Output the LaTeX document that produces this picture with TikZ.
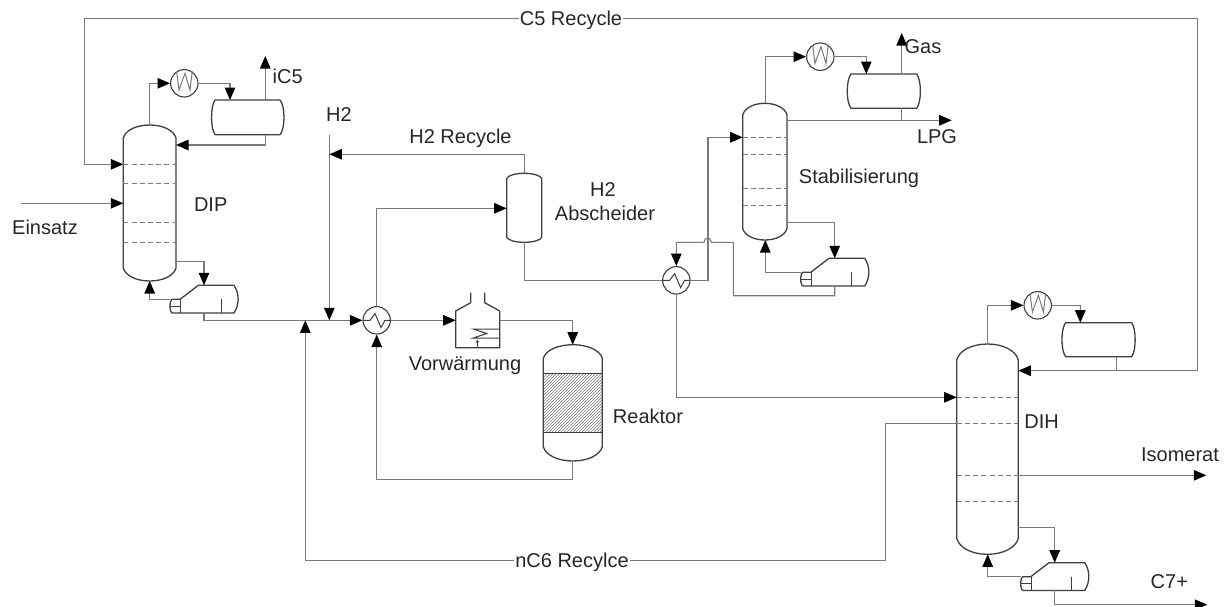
\documentclass[tikz,border=0pt]{standalone}
\usepackage{fontspec}
\setmainfont{Liberation Sans}
\usetikzlibrary{arrows.meta,patterns,calc}
\definecolor{pipe}{HTML}{7A7A7A}
\definecolor{vess}{HTML}{3F3F3F}
\definecolor{ink}{HTML}{262626}
\newcommand{\vesselshape}[6]{% xl xr ytop yshoulder1 yshoulder2 ybot
  \pgfmathsetmacro{\vc}{(#1+#2)/2}\pgfmathsetmacro{\vk}{(#2-#1)*0.25}\pgfmathsetmacro{\vs}{(#2-#1)*0.04}
  \draw[vesselline,fill=white] (#1,#4) .. controls ({#1+\vs},{#3+(#4-#3)*0.4}) and ({\vc-\vk},#3) .. (\vc,#3)
     .. controls ({\vc+\vk},#3) and ({#2-\vs},{#3+(#4-#3)*0.4}) .. (#2,#4) -- (#2,#5)
     .. controls ({#2-\vs},{#6-(#6-#5)*0.4}) and ({\vc+\vk},#6) .. (\vc,#6)
     .. controls ({\vc-\vk},#6) and ({#1+\vs},{#6-(#6-#5)*0.4}) .. (#1,#5) -- cycle;}
\newcommand{\drumshape}[6]{% xl xa xb xr ytop ybot
  \draw[vesselline,fill=white] (#2,#5) -- (#3,#5) .. controls ({#4+1.3},{#5+6}) and ({#4+1.3},{#6-6}) .. (#3,#6)
     -- (#2,#6) .. controls ({#1-1.3},{#6-6}) and ({#1-1.3},{#5+6}) .. (#2,#5) -- cycle;}
\newcommand{\trays}[5]{% xl xr y1..
  \foreach \ty in {#3,#4,#5}{\draw[trayline] (#1,\ty) -- (#2,\ty);}}
\tikzset{
  x=1pt,y=-1pt,
  vesselline/.style={draw=vess,line width=1.3pt,line join=round},
  trayline/.style={draw=pipe,line width=1pt,dash pattern=on 5pt off 3.2pt},
  pipeline/.style={draw=pipe,line width=1.1pt,line join=miter},
  flow/.style={pipeline,-{Triangle[length=12.5pt,width=10.5pt,black]}},
  bothflow/.style={pipeline,{Triangle[length=12.5pt,width=10.5pt,black]}-{Triangle[length=12.5pt,width=10.5pt,black]}},
  lbl/.style={text=ink,font=\fontsize{20}{24}\selectfont,inner sep=0pt},
  blbl/.style={lbl,fill=white,inner xsep=1pt,inner ysep=0pt},
  unit/.style={circle,draw=vess,line width=1.1pt,minimum size=27.4pt,inner sep=0pt,fill=white},
  reb/.pic={
    \draw[vesselline,fill=white] (10.7,13.5) -- (28.3,0) -- (64,0) .. controls (69.5,8) and (69.5,19.5) .. (64,27.7) -- (2.5,27.7)
      .. controls (-0.8,27.7) and (-0.8,14) .. (2.5,14) -- (10.7,14) -- cycle;
    \draw[vess,line width=1pt] (10.7,14) -- (10.7,27.7) (0.2,20.8) -- (10.7,20.8);
    \draw[vess,line width=1.1pt] (51.2,14) -- (51.2,27.7);
    \coordinate (-in) at (34,0);
    \coordinate (-out) at (34,27.7);
    \coordinate (-head) at (0,14);
  },
  cdzig/.pic={\draw[pipe,line width=1pt,line join=miter] (-7.7,-11.7) -- (-5.3,6.7) -- (0.7,-10) -- (5.7,6.7) -- (8,-12);},
  hxzig/.pic={\draw[vess,line width=1pt,line join=miter] (-13.7,0) -- (-6.7,0) -- (-1.7,-6.7) -- (4.3,7.3) -- (8.3,0) -- (13.7,0);}
}
\begin{document}
\begin{tikzpicture}
\useasboundingbox (0,0) rectangle (1228,606);
% ---- ports
\coordinate (colAtop) at (149.7,125);
\coordinate (colAbot) at (149.7,281);
\coordinate (colAref) at (176,145);
\coordinate (colAfd1) at (123.3,164.3);
\coordinate (colAfd2) at (123.3,203.3);
\coordinate (colAbt) at (176,261.3);
\coordinate (drumAin) at (230,100);
\coordinate (drumAgas) at (265.3,100);
\coordinate (drumAliq) at (265.3,134.7);
\coordinate (iCend) at (265.3,56);
\coordinate (einS) at (20.7,203.3);
\coordinate (c5tl) at (84.5,18.3);
\coordinate (c5tr) at (1197.3,18.3);
\coordinate (colCref) at (1018.3,370.7);
\coordinate (hTop) at (329.3,135);
\coordinate (hJoin) at (329.3,320.3);
\coordinate (nJoin) at (305.3,320.3);
\coordinate (nCorner) at (305.3,560.3);
\coordinate (colCn) at (956.7,423.3);
\coordinate (colCfd) at (956.7,397.3);
\coordinate (sepT) at (524.3,173.3);
\coordinate (sepB) at (524.3,242.3);
\coordinate (sepF) at (506.7,208.3);
\coordinate (sepLn) at (329.3,154.3);
\coordinate (furnW) at (455.7,320.3);
\coordinate (furnE) at (499.7,320.3);
\coordinate (reaT) at (572.7,344.7);
\coordinate (reaB) at (572.7,461);
\coordinate (colBtop) at (765.3,103.3);
\coordinate (colBbot) at (765.3,240);
\coordinate (colBfd) at (742.7,137.3);
\coordinate (colBlpg) at (787,120.3);
\coordinate (colBbt) at (787,222.3);
\coordinate (lpgEnd) at (951.7,120.3);
\coordinate (drumBin) at (866.3,74);
\coordinate (drumBgas) at (901.7,74);
\coordinate (drumBliq) at (901.7,108.3);
\coordinate (drumBj) at (901.7,120.3);
\coordinate (gasEnd) at (901.7,33);
\coordinate (colCtop) at (987.7,344);
\coordinate (colCbot) at (987.7,554.3);
\coordinate (colCbt) at (1018.3,527.3);
\coordinate (colCiso) at (1018.3,475.3);
\coordinate (isoEnd) at (1206.3,475.3);
\coordinate (drumCin) at (1080.3,322.7);
\coordinate (drumCliq) at (1116.7,356.7);
\coordinate (drumCj) at (1116.7,370.7);
\coordinate (c7End) at (1207.3,604.7);
% ---- exchangers
\node[unit] (cdA) at (184.3,83.3) {};
\node[unit] (cdB) at (820.3,56.7) {};
\node[unit] (cdC) at (1037.7,305.3) {};
\node[unit] (hxA) at (376.7,320.3) {};
\node[unit] (hxB) at (676.3,280.3) {};
\pic at (cdA) {cdzig}; \pic at (cdB) {cdzig}; \pic at (cdC) {cdzig};
\pic at (hxA) {hxzig}; \pic at (hxB) {hxzig};
% ---- vessels
\vesselshape{123.3}{176}{125}{138}{268}{281}
\trays{123.3}{175}{164.3}{183.7}{222.7}
\draw[trayline] (123.3,242.3) -- (175,242.3);
\vesselshape{742.7}{787}{103.3}{115}{228.3}{240}
\trays{742.7}{786}{137.3}{154.7}{188.7}
\draw[trayline] (742.7,205.3) -- (786,205.3);
\vesselshape{956.7}{1018.3}{344}{360}{538.3}{554.3}
\trays{956.7}{1017.5}{397.3}{423.3}{475.3}
\draw[trayline] (956.7,501.7) -- (1017.5,501.7);
\vesselshape{506.7}{541.7}{173.3}{178.5}{237.3}{242.3}
\drumshape{211.7}{215}{280}{284}{100}{134.7}
\drumshape{847.3}{851}{916.7}{920.3}{74}{108.3}
\drumshape{1062}{1065.7}{1131.7}{1135}{322.7}{356.7}
\pic (rA) at (170,285.3) {reb};
\pic (rB) at (800.7,258.3) {reb};
\pic (rC) at (1020.7,562.7) {reb};
% ---- reactor
\vesselshape{543.3}{602.3}{344.7}{358.3}{446.7}{461}
\fill[pattern=north east lines,pattern color=pipe] (543.3,373.7) rectangle (602.3,432.3);
\draw[vesselline] (543.3,373.7) rectangle (602.3,432.3);
% ---- furnace
\draw[vesselline] (470.7,292.7) -- (470.7,302.7) -- (455.7,311) -- (455.7,347.7) -- (499.7,347.7) -- (499.7,311) -- (484.7,302.7) -- (484.7,292.7);
\draw[vess,line width=1pt,line join=miter] (499.7,329) -- (473.3,329) -- (486.7,333.5) -- (473.3,338) -- (499.7,338);
\draw[vess,line width=0.8pt,-{Triangle[length=3pt,width=3pt]}] (477.3,347.7) -- (477.3,339.5);
% ---- pipes: column A
\draw[flow] (colAtop) |- (cdA.west);
\draw[flow] (cdA.east) -| (drumAin);
\draw[flow] (drumAgas) -- (iCend);
\draw[flow] (drumAliq) |- (colAref);
\draw[flow] (einS) -- (colAfd2);
\draw[flow] (colAbt) -| (rA-in);
\draw[flow] (rA-head) -| (colAbot);
\draw[flow] (rA-out) |- (hxA.west);
% C5 recycle
\draw[bothflow] (colCref) -| (c5tr) -- (c5tl) |- (colAfd1);
% H2
\draw[flow] (hTop) -- (hJoin);
\draw[flow] (sepT) |- (sepLn);
% nC6
\draw[flow] (colCn) -| ($(nCorner)+(580,0)$) -- (nCorner) -- (nJoin);
% exchanger A
\draw[flow] (hxA.north) |- (sepF);
\draw[flow] (hxA.east) -- (furnW);
\draw[flow] (reaB) |- (376.7,479.3) -- (hxA.south);
\draw[flow] (furnE) -| (reaT);
% separator to exchanger B
\coordinate (hxBin) at (hxB.west);
\draw[pipeline] (sepB) |- (hxBin);
\coordinate (hA) at (703.9,242.3);
\coordinate (hB) at (711.5,242.3);
\coordinate (hC) at (733.3,242.3);
\coordinate (hD) at (733.3,295.7);
\coordinate (hE) at (676.3,242.3);
\draw[flow] (rB-out) |- (hD) -- (hC) -- (hB) .. controls (710.5,236.5) and (704.9,236.5) .. (hA) -- (hE) -- (hxB.north);
\draw[flow] (hxB.east) -- ++(17.4,0) |- (colBfd);
\draw[flow] (hxB.south) |- (colCfd);
% column B
\draw[flow] (colBtop) |- (cdB.west);
\draw[flow] (cdB.east) -| (drumBin);
\draw[flow] (drumBgas) -- (gasEnd);
\draw[pipeline] (drumBliq) -- (drumBj);
\draw[flow] (colBlpg) -- (lpgEnd);
\draw[flow] (colBbt) -| (rB-in);
\draw[flow] (rB-head) -| (colBbot);
% column C
\draw[flow] (colCtop) |- (cdC.west);
\draw[flow] (cdC.east) -| (drumCin);
\draw[pipeline] (drumCliq) -- (drumCj);
\draw[flow] (colCiso) -- (isoEnd);
\draw[flow] (colCbt) -| (rC-in);
\draw[flow] (rC-head) -| (colCbot);
\draw[flow] (rC-out) |- (c7End);
% ---- labels
\node[blbl] (tC5) at (571,20) {C5 Recycle};
\node[blbl] (tnC6) at (572,562) {nC6 Recylce};
\node[lbl] (tEin) at (45,227) {Einsatz};
\node[lbl] (tDIP) at (210.7,204.3) {DIP};
\node[lbl] (tiC) at (287.7,76) {iC5};
\node[lbl] (tH2) at (339,115) {H2};
\node[lbl] (tH2R) at (460.5,138) {H2 Recycle};
\node[lbl] (tH2a) at (603,190) {H2};
\node[lbl] (tAb) at (605,213) {Abscheider};
\node[lbl] (tVor) at (465,366) {Vorwärmung};
\node[lbl] (tRea) at (648,416.7) {Reaktor};
\node[lbl] (tStab) at (859,178.7) {Stabilisierung};
\node[lbl] (tGas) at (923,46.7) {Gas};
\node[lbl] (tLPG) at (937,136.7) {LPG};
\node[lbl] (tDIH) at (1041.7,421.3) {DIH};
\node[lbl] (tIso) at (1180,455) {Isomerat};
\node[lbl] (tC7) at (1169.3,581.7) {C7+};
\end{tikzpicture}
\end{document}
